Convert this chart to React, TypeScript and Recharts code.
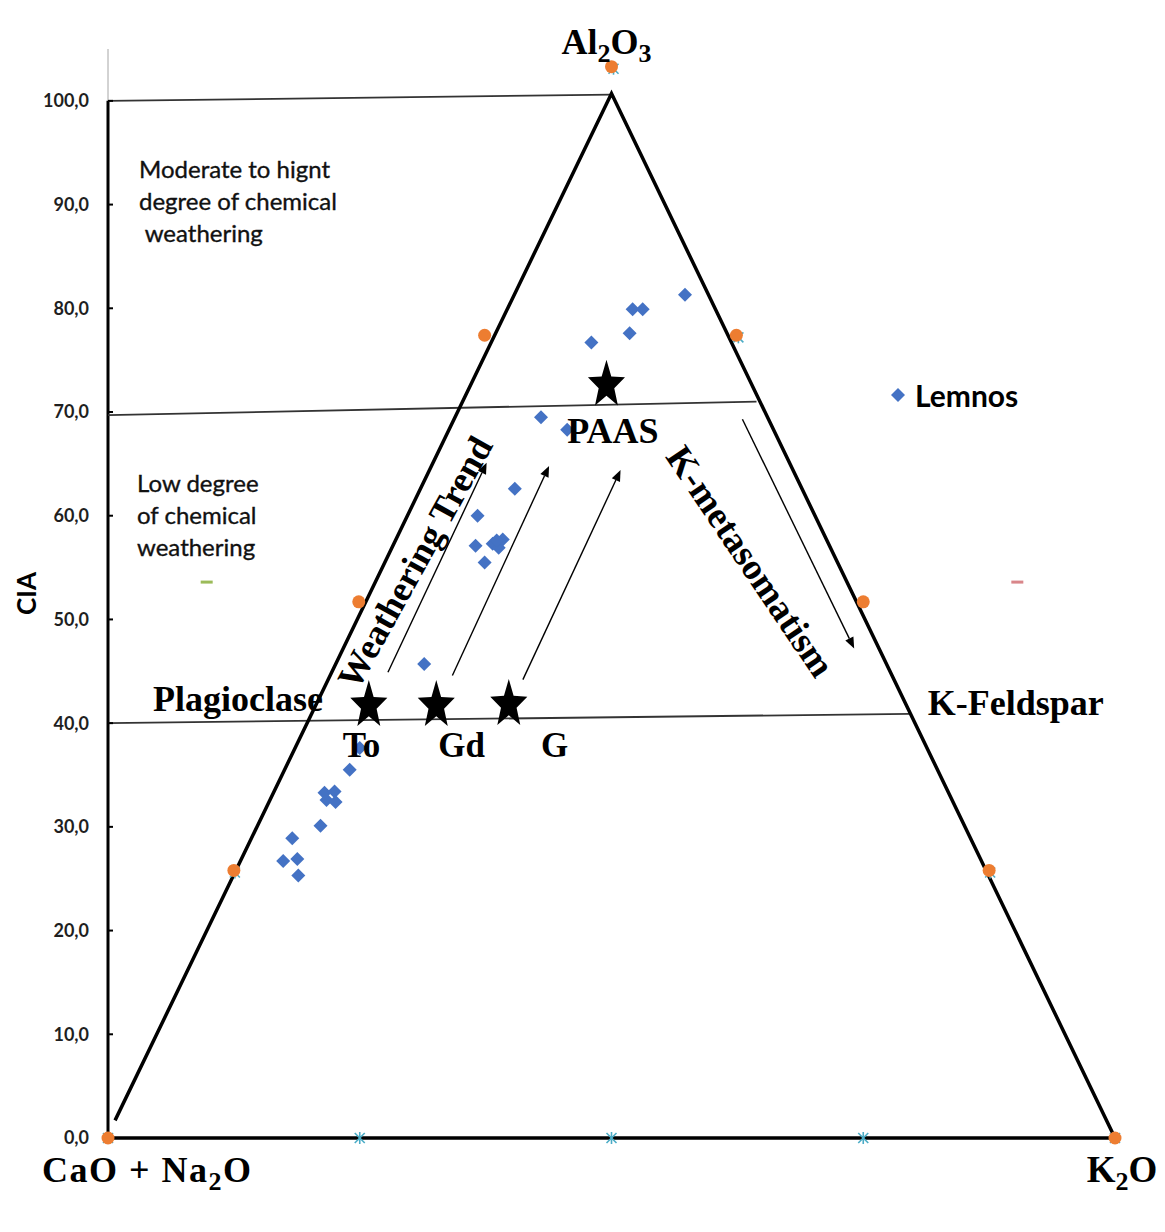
import {
  ScatterChart,
  Scatter,
  XAxis,
  YAxis,
  ReferenceLine,
  ReferenceDot,
  Legend,
} from "recharts";

// Lemnos samples (x: position along CN-K, y: CIA)
const lemnos = [
  { x: 57.3, y: 81.3 },
  { x: 52.1, y: 79.9 },
  { x: 53.1, y: 79.9 },
  { x: 51.8, y: 77.6 },
  { x: 48.0, y: 76.7 },
  { x: 43.0, y: 69.5 },
  { x: 45.6, y: 68.3 },
  { x: 40.4, y: 62.6 },
  { x: 36.7, y: 60.0 },
  { x: 36.5, y: 57.1 },
  { x: 38.2, y: 57.3 },
  { x: 38.8, y: 56.9 },
  { x: 39.2, y: 57.7 },
  { x: 38.6, y: 57.6 },
  { x: 37.4, y: 55.5 },
  { x: 31.4, y: 45.7 },
  { x: 25.0, y: 37.6 },
  { x: 24.0, y: 35.5 },
  { x: 21.5, y: 33.3 },
  { x: 22.5, y: 33.4 },
  { x: 21.7, y: 32.6 },
  { x: 22.6, y: 32.4 },
  { x: 21.1, y: 30.1 },
  { x: 18.3, y: 28.9 },
  { x: 17.4, y: 26.7 },
  { x: 18.8, y: 26.9 },
  { x: 18.9, y: 25.3 },
];

// reference compositions (To, Gd, G, PAAS)
const stars = [
  { x: 25.9, y: 41.7 },
  { x: 32.6, y: 41.7 },
  { x: 39.8, y: 41.8 },
  { x: 49.5, y: 72.6 },
];

// helper series of the ternary frame
const frameDots = [
  { x: 0, y: 0 },
  { x: 100, y: 0 },
  { x: 12.5, y: 25.8 },
  { x: 87.5, y: 25.8 },
  { x: 24.9, y: 51.7 },
  { x: 75.0, y: 51.7 },
  { x: 37.4, y: 77.4 },
  { x: 62.4, y: 77.4 },
  { x: 50.0, y: 103.3 },
];
const frameStars = [
  { x: 0, y: 0 },
  { x: 25, y: 0 },
  { x: 50, y: 0 },
  { x: 75, y: 0 },
  { x: 100, y: 0 },
  { x: 12.6, y: 25.6 },
  { x: 87.6, y: 25.6 },
  { x: 62.6, y: 77.2 },
  { x: 50.2, y: 103.1 },
];
const greenMark = [{ x: 9.8, y: 53.6 }];
const redMark = [{ x: 90.3, y: 53.6 }];

const triangle = [
  { x: 0.7, y: 1.7 },
  { x: 50, y: 100.7 },
  { x: 100, y: 0 },
  { x: 0, y: 0 },
];
const cia100 = [{ x: 0, y: 100 }, { x: 50, y: 100.6 }];
const cia70 = [{ x: 0, y: 69.7 }, { x: 64.4, y: 71.0 }];
const cia40 = [{ x: 0, y: 40.0 }, { x: 79.6, y: 40.9 }];

const arrows = [
  [{ x: 27.8, y: 44.9 }, { x: 37.6, y: 65.1 }],
  [{ x: 34.2, y: 44.6 }, { x: 43.8, y: 64.8 }],
  [{ x: 41.2, y: 44.2 }, { x: 50.9, y: 64.4 }],
  [{ x: 63.0, y: 69.3 }, { x: 74.1, y: 47.2 }],
];

const yTicks = [0, 10, 20, 30, 40, 50, 60, 70, 80, 90, 100];

const SERIF = "'Liberation Serif', 'Times New Roman', serif";
const SANS = "Lato, 'Open Sans', sans-serif";

const Diamond = (p: any) => (
  <polygon
    points={`${p.cx},${p.cy - 7} ${p.cx + 7},${p.cy} ${p.cx},${p.cy + 7} ${p.cx - 7},${p.cy}`}
    fill="#4472C4"
  />
);

const Star = (p: any) => {
  const rx = 19.5;
  const ry = 25.4;
  const k = 0.42;
  const pts: string[] = [];
  for (let i = 0; i < 10; i++) {
    const a = -Math.PI / 2 + (i * Math.PI) / 5;
    const f = i % 2 === 0 ? 1 : k;
    pts.push(`${p.cx + rx * f * Math.cos(a)},${p.cy + ry * f * Math.sin(a)}`);
  }
  return <polygon points={pts.join(" ")} fill="#000" />;
};

const Dot = (p: any) => <circle cx={p.cx} cy={p.cy} r={6.5} fill="#ED7D31" />;

const Asterisk = (p: any) => (
  <g stroke="#4BACC6" strokeWidth={1.6}>
    <line x1={p.cx - 5} y1={p.cy - 5} x2={p.cx + 5} y2={p.cy + 5} />
    <line x1={p.cx - 5} y1={p.cy + 5} x2={p.cx + 5} y2={p.cy - 5} />
    <line x1={p.cx} y1={p.cy - 6} x2={p.cx} y2={p.cy + 6} />
  </g>
);

const dash = (color: string) => (p: any) =>
  <rect x={p.cx - 6} y={p.cy - 1.5} width={12} height={3} fill={color} />;

const NoShape = () => <g />;

const Arrow = (p: any) => {
  const { x1, y1, x2, y2 } = p;
  const a = Math.atan2(y2 - y1, x2 - x1);
  const len = 11;
  const w = 4.5;
  const bx = x2 - len * Math.cos(a);
  const by = y2 - len * Math.sin(a);
  const nx = -Math.sin(a) * w;
  const ny = Math.cos(a) * w;
  return (
    <g>
      <line x1={x1} y1={y1} x2={bx} y2={by} stroke="#000" strokeWidth={1.4} />
      <polygon points={`${x2},${y2} ${bx + nx},${by + ny} ${bx - nx},${by - ny}`} fill="#000" />
    </g>
  );
};

const note = (key: string, x: number, y: number, draw: (cx: number, cy: number) => any) => (
  <ReferenceDot
    key={key}
    x={x}
    y={y}
    r={0}
    ifOverflow="visible"
    isFront
    shape={(p: any) => draw(p.cx, p.cy)}
  />
);

const serifText = (text: string, anchor = "start", rotate = 0, size = 35) => (cx: number, cy: number) => (
  <text
    x={cx}
    y={cy}
    textAnchor={anchor}
    dominantBaseline={rotate ? "central" : undefined}
    transform={rotate ? `rotate(${rotate} ${cx} ${cy})` : undefined}
    fontFamily={SERIF}
    fontWeight={700}
    fontSize={size}
    fill="#000"
  >
    {text}
  </text>
);

const sansLines = (lines: string[]) => (cx: number, cy: number) => (
  <text
    x={cx}
    y={cy}
    fontFamily={SANS}
    fontSize={24}
    fill="#111"
    stroke="#111"
    strokeWidth={0.35}
  >
    {lines.map((l, i) => (
      <tspan key={i} x={cx} dy={i === 0 ? 0 : 32} xmlSpace="preserve">
        {l}
      </tspan>
    ))}
  </text>
);

const renderLegend = () => (
  <div style={{ display: "flex", alignItems: "center", fontFamily: SANS }}>
    <svg width={16} height={16}>
      <polygon points="8,1 15,8 8,15 1,8" fill="#4472C4" />
    </svg>
    <span style={{ marginLeft: 9, fontSize: 30, fontWeight: 700, color: "#000" }}>Lemnos</span>
  </div>
);

export default function App() {
  return (
    <div style={{ position: "absolute", left: 0, top: 0, width: 1165, height: 1232, background: "#fff" }}>
      <ScatterChart width={1165} height={1232} margin={{ top: 49, right: 50, bottom: 94, left: 0 }}>
        <XAxis type="number" dataKey="x" domain={[0, 100]} hide />
        <YAxis
          type="number"
          dataKey="y"
          domain={[0, 105]}
          ticks={yTicks}
          interval={0}
          width={108}
          axisLine={false}
          tickSize={-5}
          tickMargin={24}
          tickLine={{ stroke: "#000", strokeWidth: 2 }}
          tickFormatter={(v: number) => v.toFixed(1).replace(".", ",")}
          tick={{ fill: "#1f1f1f", fontSize: 18, fontWeight: 700, fontFamily: SANS }}
          label={{
            content: (p: any) => {
              const vb = p.viewBox || {};
              const cy = (vb.y ?? 49) + (vb.height ?? 1089) / 2;
              return (
                <text
                  x={26}
                  y={cy}
                  transform={`rotate(-90 26 ${cy})`}
                  textAnchor="middle"
                  dominantBaseline="central"
                  fontFamily={SANS}
                  fontWeight={700}
                  fontSize={26}
                  fill="#000"
                >
                  CIA
                </text>
              );
            },
          }}
        />
        <ReferenceLine x={0} stroke="#a6a6a6" strokeWidth={1} />
        <ReferenceLine
          segment={[{ x: 0, y: 0 }, { x: 0, y: 100 }]}
          stroke="#000"
          strokeWidth={3}
        />
        {[cia100, cia70, cia40].map((seg, i) => (
          <ReferenceLine key={`cia-${i}`} segment={seg} stroke="#333" strokeWidth={1.8} />
        ))}
        {arrows.map((seg, i) => (
          <ReferenceLine key={`arr-${i}`} segment={seg} shape={Arrow} />
        ))}

        <Scatter
          name="frame"
          data={triangle}
          line={{ stroke: "#000", strokeWidth: 3.5 }}
          lineType="joint"
          shape={NoShape}
          legendType="none"
          isAnimationActive={false}
        />
        <Scatter name="frame ticks" data={frameStars} shape={Asterisk} legendType="none" isAnimationActive={false} />
        <Scatter name="frame corners" data={frameDots} shape={Dot} legendType="none" isAnimationActive={false} />
        <Scatter name="g" data={greenMark} shape={dash("#9BBB59")} legendType="none" isAnimationActive={false} />
        <Scatter name="r" data={redMark} shape={dash("#D9868A")} legendType="none" isAnimationActive={false} />
        <Scatter name="Lemnos" data={lemnos} shape={Diamond} isAnimationActive={false} />
        <Scatter name="sources" data={stars} shape={Star} legendType="none" isAnimationActive={false} />

        {note("al", 49.5, 104.5, (cx, cy) => (
          <text x={cx} y={cy} textAnchor="middle" fontFamily={SERIF} fontWeight={700} fontSize={36} fill="#000">
            Al<tspan fontSize={26} dy={8}>2</tspan>
            <tspan dy={-8}>O</tspan>
            <tspan fontSize={26} dy={8}>3</tspan>
          </text>
        ))}
        {note("cn", -6.55, -4.2, (cx, cy) => (
          <text x={cx} y={cy} fontFamily={SERIF} fontWeight={700} fontSize={36} letterSpacing={1.5} fill="#000">
            CaO + Na<tspan fontSize={26} dy={8}>2</tspan>
            <tspan dy={-8}>O</tspan>
          </text>
        ))}
        {note("k", 97.2, -4.2, (cx, cy) => (
          <text x={cx} y={cy} fontFamily={SERIF} fontWeight={700} fontSize={37} fill="#000">
            K<tspan fontSize={26} dy={8}>2</tspan>
            <tspan dy={-8}>O</tspan>
          </text>
        ))}
        {note("plag", 4.47, 41.2, serifText("Plagioclase", "start", 0, 36))}
        {note("kfs", 81.4, 40.8, serifText("K-Feldspar", "start", 0, 36))}
        {note("to", 23.3, 36.7, serifText("To"))}
        {note("gd", 32.8, 36.7, serifText("Gd"))}
        {note("gg", 43.0, 36.7, serifText("G"))}
        {note("paas", 45.6, 67.0, serifText("PAAS", "start", 0, 36))}
        {note("wt", 30.5, 55.5, serifText("Weathering Trend", "middle", -61, 36))}
        {note("km", 63.8, 55.6, serifText("K-metasomatism", "middle", 56, 37))}
        {note("hi", 3.08, 92.6, sansLines(["Moderate to hignt", "degree of chemical", " weathering"]))}
        {note("lo", 2.88, 62.3, sansLines(["Low degree", "of chemical", "weathering"]))}

        <Legend
          layout="horizontal"
          verticalAlign="middle"
          align="center"
          content={renderLegend}
          wrapperStyle={{ left: 890, top: 377, width: "auto" }}
        />
      </ScatterChart>
    </div>
  );
}
